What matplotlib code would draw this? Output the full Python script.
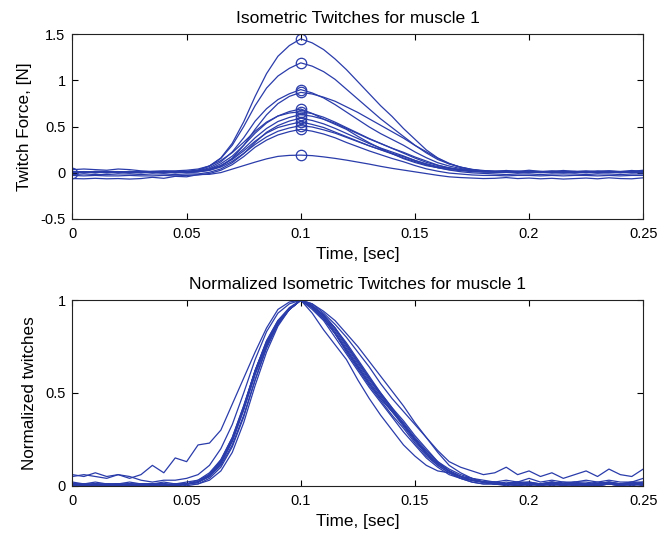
import numpy as np
import matplotlib
matplotlib.use("Agg")
from matplotlib import pyplot as plt

plt.rcParams['font.family'] = ['Liberation Sans', 'DejaVu Sans']
plt.rcParams['font.size'] = 10.5

# time grid of the read-off samples (sec)
t = np.arange(51) * 0.005

# twitch peak force [N] at t = 0.1 and baseline force [N], one per twitch
peaks = [1.45, 1.19, 0.90, 0.87, 0.69, 0.66, 0.63, 0.59, 0.55, 0.51, 0.47, 0.19]
bases = [0.0, 0.0, 0.0, 0.0, 0.0, 0.0, 0.0, -0.02, 0.0, 0.0, -0.04, -0.08]

# normalized twitch shapes (51 samples each)
tw1 = [0.01, 0.00, 0.01, 0.01, 0.00, 0.01, 0.00, 0.01, 0.01, 0.00, 0.01,
       0.02, 0.05, 0.11, 0.22, 0.38, 0.57, 0.74, 0.87, 0.95, 1.00,
       0.97, 0.92, 0.85, 0.77, 0.68, 0.59, 0.50, 0.42, 0.33, 0.25, 0.17, 0.11, 0.07, 0.04, 0.02, 0.01,
       0.01, 0.01, 0.00, 0.01, 0.01, 0.00, 0.01, 0.01, 0.00, 0.01, 0.01, 0.00, 0.01, 0.01]
tw2 = [0.00, 0.01, 0.00, 0.01, 0.01, 0.00, 0.01, 0.00, 0.01, 0.01, 0.01,
       0.02, 0.06, 0.13, 0.25, 0.42, 0.61, 0.77, 0.88, 0.95, 1.00,
       0.97, 0.92, 0.85, 0.76, 0.67, 0.58, 0.49, 0.41, 0.33, 0.25, 0.18, 0.12, 0.08, 0.05, 0.03, 0.02,
       0.01, 0.02, 0.01, 0.01, 0.00, 0.01, 0.02, 0.01, 0.01, 0.00, 0.01, 0.01, 0.02, 0.01]
tw3 = [0.01, 0.01, 0.00, 0.01, 0.00, 0.01, 0.01, 0.00, 0.01, 0.00, 0.01,
       0.02, 0.06, 0.13, 0.25, 0.42, 0.62, 0.77, 0.88, 0.95, 1.00,
       0.96, 0.90, 0.82, 0.73, 0.64, 0.55, 0.47, 0.40, 0.33, 0.25, 0.18, 0.12, 0.08, 0.05, 0.03, 0.02,
       0.01, 0.01, 0.02, 0.01, 0.01, 0.01, 0.00, 0.01, 0.01, 0.02, 0.01, 0.01, 0.00, 0.01]
tw4 = [0.00, 0.01, 0.01, 0.00, 0.01, 0.00, 0.00, 0.01, 0.00, 0.01, 0.00,
       0.01, 0.03, 0.08, 0.18, 0.34, 0.54, 0.72, 0.86, 0.95, 1.00,
       0.98, 0.94, 0.89, 0.82, 0.75, 0.67, 0.59, 0.51, 0.43, 0.34, 0.26, 0.18, 0.11, 0.07, 0.04, 0.02,
       0.02, 0.01, 0.01, 0.02, 0.01, 0.01, 0.01, 0.00, 0.01, 0.01, 0.02, 0.01, 0.01, 0.02]
tw5 = [0.01, 0.00, 0.01, 0.00, 0.01, 0.01, 0.00, 0.01, 0.00, 0.01, 0.01,
       0.02, 0.06, 0.14, 0.26, 0.43, 0.62, 0.78, 0.89, 0.96, 1.00,
       0.93, 0.84, 0.76, 0.68, 0.57, 0.47, 0.38, 0.30, 0.22, 0.16, 0.11, 0.08, 0.07, 0.04, 0.03, 0.02,
       0.01, 0.01, 0.00, 0.01, 0.01, 0.02, 0.01, 0.00, 0.01, 0.01, 0.01, 0.00, 0.01, 0.01]
tw6 = [0.05, 0.06, 0.05, 0.04, 0.06, 0.05, 0.03, 0.02, 0.03, 0.03, 0.04,
       0.06, 0.11, 0.20, 0.33, 0.50, 0.68, 0.83, 0.93, 0.98, 1.00,
       0.97, 0.91, 0.83, 0.74, 0.65, 0.56, 0.48, 0.40, 0.32, 0.24, 0.17, 0.12, 0.08, 0.05, 0.04, 0.03,
       0.02, 0.03, 0.02, 0.04, 0.02, 0.03, 0.02, 0.02, 0.03, 0.02, 0.03, 0.02, 0.02, 0.04]
tw7 = [0.01, 0.01, 0.00, 0.01, 0.01, 0.00, 0.01, 0.01, 0.00, 0.01, 0.01,
       0.02, 0.05, 0.12, 0.24, 0.41, 0.60, 0.76, 0.88, 0.95, 1.00,
       0.97, 0.92, 0.85, 0.76, 0.67, 0.58, 0.50, 0.42, 0.35, 0.27, 0.20, 0.13, 0.08, 0.05, 0.03, 0.02,
       0.01, 0.01, 0.01, 0.00, 0.01, 0.01, 0.01, 0.02, 0.01, 0.00, 0.01, 0.01, 0.01, 0.01]
tw8 = [0.00, 0.01, 0.00, 0.00, 0.01, 0.01, 0.00, 0.01, 0.01, 0.00, 0.01,
       0.01, 0.04, 0.10, 0.21, 0.37, 0.57, 0.75, 0.87, 0.95, 1.00,
       0.96, 0.90, 0.82, 0.73, 0.64, 0.55, 0.47, 0.40, 0.33, 0.25, 0.18, 0.12, 0.08, 0.05, 0.03, 0.02,
       0.01, 0.00, 0.01, 0.01, 0.00, 0.01, 0.01, 0.01, 0.00, 0.01, 0.01, 0.00, 0.01, 0.01]
tw9 = [0.01, 0.00, 0.01, 0.01, 0.00, 0.01, 0.01, 0.01, 0.00, 0.01, 0.01,
       0.03, 0.07, 0.14, 0.26, 0.43, 0.62, 0.78, 0.89, 0.95, 1.00,
       0.95, 0.89, 0.80, 0.71, 0.62, 0.53, 0.45, 0.37, 0.29, 0.22, 0.15, 0.10, 0.06, 0.04, 0.02, 0.01,
       0.01, 0.01, 0.00, 0.01, 0.01, 0.01, 0.00, 0.01, 0.01, 0.00, 0.01, 0.01, 0.01, 0.00]
tw10 = [0.01, 0.01, 0.01, 0.00, 0.01, 0.00, 0.01, 0.01, 0.01, 0.00, 0.01,
        0.02, 0.05, 0.12, 0.24, 0.41, 0.60, 0.76, 0.88, 0.95, 1.00,
        0.97, 0.91, 0.84, 0.75, 0.66, 0.57, 0.49, 0.41, 0.34, 0.26, 0.19, 0.13, 0.09, 0.06, 0.04, 0.02,
        0.02, 0.01, 0.02, 0.01, 0.01, 0.02, 0.01, 0.01, 0.00, 0.01, 0.02, 0.01, 0.01, 0.01]
tw11 = [0.02, 0.01, 0.02, 0.01, 0.01, 0.02, 0.01, 0.01, 0.02, 0.01, 0.02,
        0.03, 0.06, 0.13, 0.25, 0.42, 0.62, 0.77, 0.88, 0.95, 1.00,
        0.96, 0.90, 0.82, 0.72, 0.63, 0.54, 0.46, 0.38, 0.31, 0.23, 0.16, 0.11, 0.07, 0.05, 0.03, 0.02,
        0.02, 0.01, 0.02, 0.02, 0.01, 0.02, 0.01, 0.02, 0.02, 0.01, 0.02, 0.01, 0.02, 0.02]
tw12 = [0.06, 0.05, 0.07, 0.05, 0.06, 0.04, 0.06, 0.11, 0.07, 0.15, 0.13,
        0.22, 0.23, 0.30, 0.44, 0.58, 0.72, 0.85, 0.95, 0.99, 1.00,
        0.98, 0.93, 0.87, 0.80, 0.72, 0.64, 0.55, 0.47, 0.40, 0.33, 0.26, 0.19, 0.13, 0.10, 0.08, 0.06,
        0.07, 0.10, 0.06, 0.08, 0.05, 0.07, 0.04, 0.06, 0.08, 0.05, 0.09, 0.06, 0.05, 0.09]

shapes = [tw1, tw2, tw3, tw4, tw5, tw6, tw7, tw8, tw9, tw10, tw11, tw12]

# extra open circle drawn at the start of the record
start_t = [0.0]
start_y = [0.0]
t_peak = 0.1

col = '#2a3caa'

fig = plt.figure(figsize=(6.59, 5.35), dpi=100)
ax1 = fig.add_axes([0.110, 0.591, 0.866, 0.345])
ax2 = fig.add_axes([0.110, 0.092, 0.866, 0.347])

for sh, pk, b in zip(shapes, peaks, bases):
    sh = np.array(sh)
    force = b + (pk - b) * sh
    ax1.plot(t, force, color=col, lw=0.9)
    ax2.plot(t, sh, color=col, lw=0.9)

ax1.plot([t_peak] * len(peaks), peaks, 'o', mfc='none', mec=col, ms=7.5, mew=0.9)
ax1.plot(start_t, start_y, 'o', mfc='none', mec=col, ms=7.5, mew=0.9)

ax1.set_xlim(0, 0.25)
ax1.set_ylim(-0.5, 1.5)
ax1.set_xticks([0, 0.05, 0.1, 0.15, 0.2, 0.25])
ax1.set_xticklabels(['0', '0.05', '0.1', '0.15', '0.2', '0.25'])
ax1.set_yticks([-0.5, 0, 0.5, 1, 1.5])
ax1.set_yticklabels(['-0.5', '0', '0.5', '1', '1.5'])
ax1.set_title('Isometric Twitches for muscle 1', pad=8)
ax1.set_xlabel('Time, [sec]', fontsize=12.3, labelpad=4)
ax1.set_ylabel('Twitch Force, [N]', fontsize=12.3, labelpad=6)

ax2.set_xlim(0, 0.25)
ax2.set_ylim(0, 1)
ax2.set_xticks([0, 0.05, 0.1, 0.15, 0.2, 0.25])
ax2.set_xticklabels(['0', '0.05', '0.1', '0.15', '0.2', '0.25'])
ax2.set_yticks([0, 0.5, 1])
ax2.set_yticklabels(['0', '0.5', '1'])
ax2.set_title('Normalized Isometric Twitches for muscle 1', pad=8)
ax2.set_xlabel('Time, [sec]', fontsize=12.3, labelpad=4)
ax2.set_ylabel('Normalized twitches', fontsize=12.3, labelpad=6)

for ax in (ax1, ax2):
    ax.tick_params(direction='in', top=True, right=True, length=4, width=0.8)
    ax.tick_params(axis='x', pad=6)
    ax.tick_params(axis='y', pad=5)
    for s in ax.spines.values():
        s.set_linewidth(0.8)
        s.set_color('#222222')

fig.savefig('out.png', dpi=100)
